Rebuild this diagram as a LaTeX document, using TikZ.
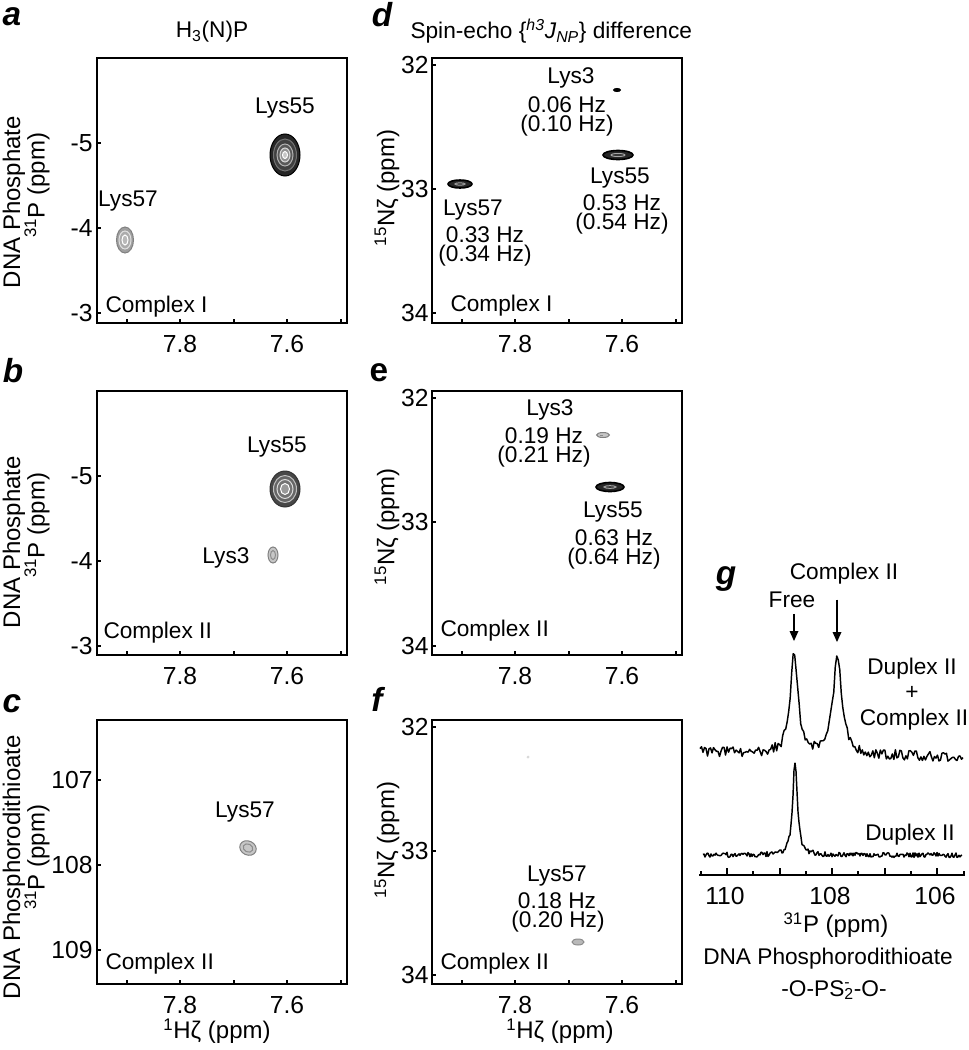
\documentclass[tikz,border=0pt]{standalone}
\usepackage{fontspec}
\setmainfont{Liberation Sans}
\tikzset{every picture/.style={line width=0.75pt}}

\begin{document}
\begin{tikzpicture}[x=0.75pt,y=0.75pt,yscale=-1,xscale=1,
	txt/.style={inner sep=0pt, font=\fontsize{17}{20}\selectfont},
	num/.style={inner sep=0pt, font=\fontsize{18.5}{21}\selectfont},
	ylab/.style={inner sep=0pt, rotate=90, font=\fontsize{18}{21}\selectfont},
	plabel/.style={inner sep=0pt, font=\fontsize{25}{28}\selectfont\bfseries\itshape},
	frame/.style={line width=1.8pt, line join=miter},
	ticks/.style={line width=1.5pt},
	spec/.style={line width=1.1pt, line join=round}]
	\useasboundingbox (0,0) rectangle (968,1050);

	%Shape: Rectangle [panel a] 
	\draw [frame] (97,58) -- (347,58) -- (347,323) -- (97,323) -- cycle ;
	%Shape: Rectangle [panel b] 
	\draw [frame] (97,391) -- (347,391) -- (347,655) -- (97,655) -- cycle ;
	%Shape: Rectangle [panel c] 
	\draw [frame] (97,720) -- (347,720) -- (347,984) -- (97,984) -- cycle ;
	%Shape: Rectangle [panel d] 
	\draw [frame] (432,58) -- (682,58) -- (682,323) -- (432,323) -- cycle ;
	%Shape: Rectangle [panel e] 
	\draw [frame] (432,391) -- (682,391) -- (682,655) -- (432,655) -- cycle ;
	%Shape: Rectangle [panel f] 
	\draw [frame] (432,720) -- (682,720) -- (682,984) -- (432,984) -- cycle ;

	%Straight Lines [ticks a, b, c] 
	\draw [ticks] (126.5,323) -- (126.5,319) (180,323) -- (180,319) (233.5,323) -- (233.5,319) (287,323) -- (287,319) (340.5,323) -- (340.5,319) ;
	\draw [ticks] (97,143) -- (101,143) (97,228) -- (101,228) (97,313) -- (101,313) ;
	\draw [ticks] (126.5,655) -- (126.5,651) (180,655) -- (180,651) (233.5,655) -- (233.5,651) (287,655) -- (287,651) (340.5,655) -- (340.5,651) ;
	\draw [ticks] (97,476) -- (101,476) (97,561) -- (101,561) (97,646) -- (101,646) ;
	\draw [ticks] (126.5,984) -- (126.5,980) (180,984) -- (180,980) (233.5,984) -- (233.5,980) (287,984) -- (287,980) (340.5,984) -- (340.5,980) ;
	\draw [ticks] (97,780) -- (101,780) (97,865) -- (101,865) (97,950) -- (101,950) ;
	%Straight Lines [ticks d, e, f] 
	\draw [ticks] (461.5,323) -- (461.5,319) (515,323) -- (515,319) (568.5,323) -- (568.5,319) (622,323) -- (622,319) (675.5,323) -- (675.5,319) ;
	\draw [ticks] (432,65) -- (436,65) (432,189) -- (436,189) (432,313) -- (436,313) ;
	\draw [ticks] (461.5,655) -- (461.5,651) (515,655) -- (515,651) (568.5,655) -- (568.5,651) (622,655) -- (622,651) (675.5,655) -- (675.5,651) ;
	\draw [ticks] (432,398) -- (436,398) (432,522) -- (436,522) (432,646) -- (436,646) ;
	\draw [ticks] (461.5,984) -- (461.5,980) (515,984) -- (515,980) (568.5,984) -- (568.5,980) (622,984) -- (622,980) (675.5,984) -- (675.5,980) ;
	\draw [ticks] (432,727) -- (436,727) (432,851) -- (436,851) (432,975) -- (436,975) ;

	%Shape: Ellipse [a Lys55] 
	\draw [draw=black, fill=black!85] (285,155) ellipse (15 and 21) ;
	\draw [draw=black!55, fill=black!75] (285,155) ellipse (11.5 and 16) ;
	\draw [draw=gray!60, fill=black!65] (285,155) ellipse (8 and 11) ;
	\draw [draw=white!70!gray, fill=gray!85] (285,155) ellipse (5 and 7) ;
	\draw [draw=white, fill=gray!45] (285,155) ellipse (2.5 and 3.5) ;
	%Shape: Ellipse [a Lys57] 
	\draw [draw=gray, fill=gray!75] (125,240) ellipse (8.5 and 13) ;
	\draw [draw=white!75!gray, fill=gray!65] (125,240) ellipse (6 and 9) ;
	\draw [draw=white, fill=gray!55] (125,240) ellipse (3 and 5) ;
	%Shape: Ellipse [b Lys55] 
	\draw [draw=black!80, fill=black!72] (285,489) ellipse (15 and 18) ;
	\draw [draw=gray!50, fill=black!60] (285,489) ellipse (11.5 and 13.5) ;
	\draw [draw=white!70!gray, fill=black!55] (285,489) ellipse (8 and 9.5) ;
	\draw [draw=white, fill=gray!80] (285,489) ellipse (4.5 and 5.5) ;
	%Shape: Ellipse [b Lys3] 
	\draw [draw=gray, fill=gray!45] (273,555) ellipse (5 and 8) ;
	\draw [draw=gray!90] (273,555) ellipse (2.5 and 4.5) ;
	%Shape: Ellipse [c Lys57] 
	\draw [draw=gray, fill=gray!45, rotate around={25:(248,848)}] (248,848) ellipse (8.5 and 7) ;
	\draw [draw=gray!90, rotate around={25:(248,848)}] (248,848) ellipse (5 and 4) ;
	%Shape: Ellipse [d Lys3] 
	\draw [fill=black] (617,90) ellipse (3.5 and 1.5) ;
	%Shape: Ellipse [d Lys55] 
	\draw [line width=1.2pt, fill=black!85] (618,155) ellipse (15 and 4.5) ;
	\draw [draw=gray!70] (618,155) ellipse (7 and 1.5) ;
	%Shape: Ellipse [d Lys57] 
	\draw [line width=1.2pt, fill=black!85] (460,184) ellipse (12 and 4) ;
	\draw [draw=gray!70] (460,184) ellipse (5 and 1.2) ;
	%Shape: Ellipse [e Lys3] 
	\draw [draw=gray, fill=gray!45] (603,435) ellipse (6.5 and 2.5) ;
	\draw [draw=gray!90] (603,435) -- (600,435) ;
	%Shape: Ellipse [e Lys55] 
	\draw [line width=1.2pt, fill=black!85] (610,487) ellipse (14 and 4.5) ;
	\draw [draw=gray!70] (610,487) ellipse (6 and 1.3) ;
	%Shape: Ellipse [f Lys57] 
	\draw [draw=gray!90, fill=gray!55] (578,942) ellipse (6 and 3) ;
	\draw [draw=gray!30, fill=gray!30] (528,757) circle (0.8) ;

	% Text Node
	\draw (12,17) node [plabel] (pa) {a};
	\draw (13,371) node [plabel] (pb) {b};
	\draw (12,704) node [plabel] (pc) {c};
	\draw (382,15) node [plabel] (pd) {d};
	\draw (379,373) node [plabel, font=\fontsize{25}{28}\selectfont\bfseries] (pe) {e};
	\draw (377,699) node [plabel] (pf) {f};
	\draw (726,579) node [plabel] (pg) {g};
	% Text Node
	\draw (212,32) node [txt] (ttl1) {H\textsubscript{3}(N)P};
	\draw (410,31) node [txt, anchor=west] (ttl2) {Spin-echo \{\textsuperscript{\itshape h3}\textit{J}\textsubscript{\itshape NP}\} difference};

	% Text Node [y axis a, b, c]
	\draw (14,202) node [ylab] (ya1) {DNA Phosphate};
	\draw (37,185) node [ylab] (ya2) {\textsuperscript{31}P (ppm)};
	\draw (14,542) node [ylab] (yb1) {DNA Phosphate};
	\draw (37,525) node [ylab] (yb2) {\textsuperscript{31}P (ppm)};
	\draw (14,867) node [ylab] (yc1) {DNA Phosphorodithioate};
	\draw (37,857) node [ylab] (yc2) {\textsuperscript{31}P (ppm)};
	% Text Node [y axis d, e, f]
	\draw (387,188) node [ylab] (yd) {\textsuperscript{15}Nζ (ppm)};
	\draw (387,527) node [ylab] (ye) {\textsuperscript{15}Nζ (ppm)};
	\draw (387,840) node [ylab] (yf) {\textsuperscript{15}Nζ (ppm)};

	% Text Node [tick labels]
	\draw (93,143) node [num, anchor=east] (a5) {-5};
	\draw (93,228) node [num, anchor=east] (a4) {-4};
	\draw (93,313) node [num, anchor=east] (a3) {-3};
	\draw (93,476) node [num, anchor=east] (b5) {-5};
	\draw (93,561) node [num, anchor=east] (b4) {-4};
	\draw (93,646) node [num, anchor=east] (b3) {-3};
	\draw (93,780) node [num, anchor=east] (c107) {107};
	\draw (93,865) node [num, anchor=east] (c108) {108};
	\draw (93,950) node [num, anchor=east] (c109) {109};
	\draw (429,65) node [num, anchor=east] (d32) {32};
	\draw (429,189) node [num, anchor=east] (d33) {33};
	\draw (429,313) node [num, anchor=east] (d34) {34};
	\draw (429,398) node [num, anchor=east] (e32) {32};
	\draw (429,522) node [num, anchor=east] (e33) {33};
	\draw (429,646) node [num, anchor=east] (e34) {34};
	\draw (429,727) node [num, anchor=east] (f32) {32};
	\draw (429,851) node [num, anchor=east] (f33) {33};
	\draw (429,975) node [num, anchor=east] (f34) {34};
	\draw (180,344) node [num] (xa78) {7.8};
	\draw (287,344) node [num] (xa76) {7.6};
	\draw (180,676) node [num] (xb78) {7.8};
	\draw (287,676) node [num] (xb76) {7.6};
	\draw (180,1005) node [num] (xc78) {7.8};
	\draw (287,1005) node [num] (xc76) {7.6};
	\draw (515,344) node [num] (xd78) {7.8};
	\draw (622,344) node [num] (xd76) {7.6};
	\draw (515,676) node [num] (xe78) {7.8};
	\draw (622,676) node [num] (xe76) {7.6};
	\draw (515,1005) node [num] (xf78) {7.8};
	\draw (622,1005) node [num] (xf76) {7.6};
	\draw (217,1031) node [ylab, rotate=-90] (xc) {\textsuperscript{1}Hζ (ppm)};
	\draw (560,1031) node [ylab, rotate=-90] (xf) {\textsuperscript{1}Hζ (ppm)};

	% Text Node [peak labels a, b, c]
	\draw (285,108) node [txt] (la55) {Lys55};
	\draw (128,201) node [txt] (la57) {Lys57};
	\draw (105,307) node [txt, anchor=west] (lacx) {Complex I};
	\draw (277,447) node [txt] (lb55) {Lys55};
	\draw (226,558) node [txt] (lb3) {Lys3};
	\draw (103,633) node [txt, anchor=west] (lbcx) {Complex II};
	\draw (245,812) node [txt] (lc57) {Lys57};
	\draw (105,964) node [txt, anchor=west] (lccx) {Complex II};
	% Text Node [peak labels d]
	\draw (571,78) node [txt] (ld3) {Lys3};
	\draw (567,105) node [txt] (ld3j) {0.06 Hz};
	\draw (567,126) node [txt] (ld3k) {(0.10 Hz)};
	\draw (620,178) node [txt] (ld55) {Lys55};
	\draw (622,203) node [txt] (ld55j) {0.53 Hz};
	\draw (622,224) node [txt] (ld55k) {(0.54 Hz)};
	\draw (473,210) node [txt] (ld57) {Lys57};
	\draw (485,235) node [txt] (ld57j) {0.33 Hz};
	\draw (485,256) node [txt] (ld57k) {(0.34 Hz)};
	\draw (450,306) node [txt, anchor=west] (ldcx) {Complex I};
	% Text Node [peak labels e]
	\draw (550,410) node [txt] (le3) {Lys3};
	\draw (544,436) node [txt] (le3j) {0.19 Hz};
	\draw (544,457) node [txt] (le3k) {(0.21 Hz)};
	\draw (613,512) node [txt] (le55) {Lys55};
	\draw (614,538) node [txt] (le55j) {0.63 Hz};
	\draw (614,559) node [txt] (le55k) {(0.64 Hz)};
	\draw (440,631) node [txt, anchor=west] (lecx) {Complex II};
	% Text Node [peak labels f]
	\draw (557,876) node [txt] (lf57) {Lys57};
	\draw (557,901) node [txt] (lf57j) {0.18 Hz};
	\draw (558,922) node [txt] (lf57k) {(0.20 Hz)};
	\draw (440,964) node [txt, anchor=west] (lfcx) {Complex II};

	%Straight Lines [panel g axis] 
	\draw [frame] (699,875) -- (965,875) ;
	\draw [ticks] (727,875) -- (727,868) (779.5,875) -- (779.5,868) (832,875) -- (832,868) (884.5,875) -- (884.5,868) (937,875) -- (937,868) ;
	\draw [ticks] (700.5,875) -- (700.5,871) (753.25,875) -- (753.25,871) (805.75,875) -- (805.75,871) (858.25,875) -- (858.25,871) (910.75,875) -- (910.75,871) (963.5,875) -- (963.5,871) ;
	%Curve Lines [spectra] 
	\pgfmathsetseed{17}
	\draw [spec] plot [domain=700:963, samples=176] (\x, {752 + 5*(\x-700)/263 - 100/(1+((\x-794)/4.5)^2) - 96/(1+((\x-837.5)/5.5)^2) + 5*rand}) ;
	\draw [spec] plot [domain=703:962, samples=260] (\x, {855 - 93/(1+((\x-795)/2.8)^2) + 2.6*rand}) ;

	% Text Node [panel g]
	\draw (844,574) node [txt] (gcx) {Complex II};
	\draw (792,600) node [txt] (gfree) {Free};
	\coordinate (freetip) at (794,641) ;
	\coordinate (cxtip) at (837,642) ;
	\draw [line width=1.2pt, shorten <=4pt, shorten >=3pt] (gfree.south -| freetip) -- (freetip) ;
	\draw [shift={(freetip)}, rotate=270] [fill=black, draw opacity=0] (10,-4.5) -- (0,0) -- (10,4.5) -- cycle ;
	\draw [line width=1.2pt, shorten <=11pt, shorten >=3pt] (gcx.south -| cxtip) -- (cxtip) ;
	\draw [shift={(cxtip)}, rotate=270] [fill=black, draw opacity=0] (10,-4.5) -- (0,0) -- (10,4.5) -- cycle ;
	\draw (912,669) node [txt] (gdup1) {Duplex II};
	\draw (912,693) node [txt] (gplus) {+};
	\draw (914,720) node [txt] (gcx2) {Complex II};
	\draw (910,835) node [txt] (gdup2) {Duplex II};
	\draw (725,896) node [num] (g110) {110};
	\draw (830,896) node [num] (g108) {108};
	\draw (935,896) node [num] (g106) {106};
	\draw (836,925) node [txt, font=\fontsize{18}{21}\selectfont] (gx) {\textsuperscript{31}P (ppm)};
	\draw (828,959) node [txt] (gdna) {DNA Phosphorodithioate};
	\draw (834,990) node [txt] (gps) {-O-PS\rlap{\textsuperscript{-}}\textsubscript{2}-O-};

\end{tikzpicture}
\end{document}
